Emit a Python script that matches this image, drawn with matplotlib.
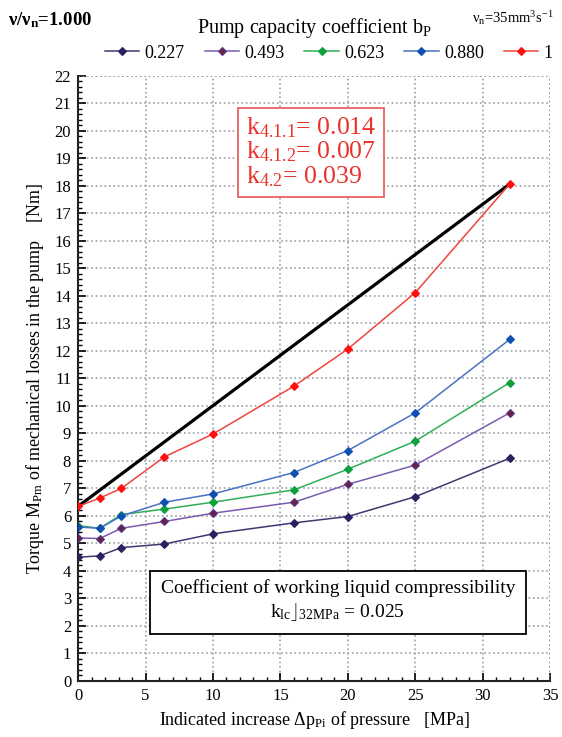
import numpy as np
from matplotlib import pyplot as plt

plt.rcParams['font.family'] = ['Liberation Serif', 'DejaVu Serif']
plt.rcParams['mathtext.fontset'] = 'custom'
plt.rcParams['mathtext.rm'] = 'Liberation Serif'
plt.rcParams['mathtext.it'] = 'Liberation Serif:italic'
plt.rcParams['mathtext.bf'] = 'Liberation Serif:bold'

# data
p = [0, 1.6, 3.2, 6.4, 10, 16, 20, 25, 32]
labels = ['0.227', '0.493', '0.623', '0.880', '1']
m_0227 = [4.5, 4.55, 4.85, 4.98, 5.35, 5.75, 5.98, 6.7, 8.1]
m_0493 = [5.2, 5.18, 5.55, 5.8, 6.1, 6.5, 7.15, 7.85, 9.75]
m_0623 = [5.65, 5.55, 6.05, 6.25, 6.5, 6.95, 7.7, 8.72, 10.85]
m_0880 = [5.6, 5.55, 6.0, 6.5, 6.8, 7.58, 8.38, 9.75, 12.42]
m_1 = [6.35, 6.65, 7.0, 8.15, 8.98, 10.72, 12.07, 14.12, 18.07]
straight_x = [0, 32]
straight_y = [6.35, 18.07]

series = [m_0227, m_0493, m_0623, m_0880, m_1]
line_col = ['#3c3a70', '#7a5cb0', '#2fae55', '#4a72c4', '#f0453c']
mark_col = ['#2b2060', '#6a2040', '#10a040', '#1050b0', '#ff1010']
mark_edge = ['#2b2060', '#5a3a90', '#10a040', '#1050b0', '#ff1010']

fig = plt.figure(figsize=(5.62, 7.37), dpi=100)
ax = fig.add_axes([0.139, 0.076, 0.840, 0.821])

ax.plot(straight_x, straight_y, color='black', lw=2.3, zorder=3)
handles = []
for s, lc, mc, me, lab in zip(series, line_col, mark_col, mark_edge, labels):
    h, = ax.plot(p, s, color=lc, lw=1.1, marker='D', ms=4.5,
                 markerfacecolor=mc, markeredgecolor=me, markeredgewidth=0.8,
                 label=lab, zorder=4)
    handles.append(h)

ax.set_xlim(0, 35)
ax.set_ylim(0, 22)
ax.set_xticks(range(0, 36, 5))
ax.set_yticks(range(0, 23))
ax.set_xticks(range(0, 36), minor=True)
ax.set_yticks(np.arange(0, 22.01, 0.2), minor=True)
ax.tick_params(axis='both', which='major', direction='in', length=6, width=1.2,
               labelsize=12, pad=5)
ax.tick_params(axis='both', which='minor', direction='in', length=3, width=1)
ax.grid(True, which='major', color='#9aa0a8', linestyle=':', linewidth=1.2)
for side in ['top', 'right']:
    ax.spines[side].set_visible(False)
for side in ['left', 'bottom']:
    ax.spines[side].set_linewidth(1.5)
    ax.spines[side].set_color('#222222')
ax.axhline(22, color='#9aa0a8', ls=':', lw=1.2)
ax.axvline(35, color='#9aa0a8', ls=':', lw=1.2)

ax.set_xlabel(r'Indicated increase $\Delta$p$_{\mathrm{Pi}}$ of pressure   [MPa]', fontsize=13, labelpad=4)
ax.set_ylabel(r'Torque M$_{\mathrm{Pm}}$ of mechanical losses in the pump    [Nm]', fontsize=13, labelpad=6)

# red box
ax.text(0.355, 0.935,
        'k$_{4.1.1}$= 0.014\nk$_{4.1.2}$= 0.007\nk$_{4.2}$= 0.039',
        transform=ax.transAxes, color='#e8322a', fontsize=18.5, va='top', ha='left',
        linespacing=1.0,
        bbox=dict(boxstyle='square,pad=0.3', facecolor='white', edgecolor='#e86060', lw=1.3))

# compressibility box
ax.text(0.55, 0.168,
        'Coefficient of working liquid compressibility\nk$_{\\mathrm{lc}}$$\\rfloor_{\\mathrm{32MPa}}$ = 0.025',
        transform=ax.transAxes, color='black', fontsize=14, va='top', ha='center',
        linespacing=1.25,
        bbox=dict(boxstyle='square,pad=0.55', facecolor='white', edgecolor='black', lw=1.3))

fig.text(0.015, 0.972, 'ν/ν$_{\\mathbf{n}}$=1.000', fontsize=13.5, fontweight='bold', va='center')
fig.text(0.56, 0.962, 'Pump capacity coefficient b$_{\\mathrm{P}}$', fontsize=14.5, ha='center', va='center')
fig.text(0.985, 0.975, 'ν$_{\\mathrm{n}}$=35mm$^{3}$s$^{-1}$', fontsize=10.5, ha='right', va='center')
fig.legend(handles=handles, loc='center', bbox_to_anchor=(0.585, 0.928), ncol=5, frameon=False,
           fontsize=13, handlelength=1.9, handletextpad=0.3, columnspacing=1.1,
           borderaxespad=0)

plt.savefig('out.png', dpi=100)
